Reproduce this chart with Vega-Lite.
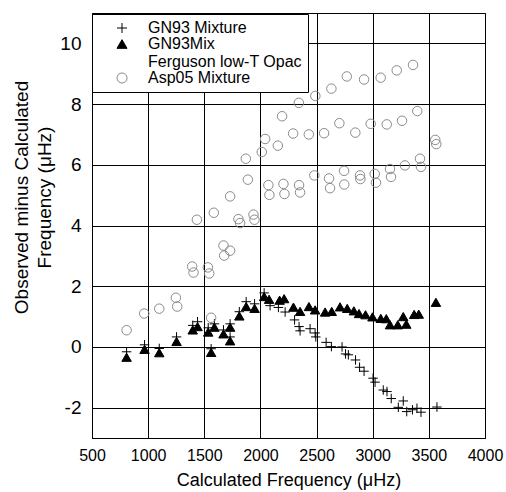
{
  "$schema": "https://vega.github.io/schema/vega-lite/v6.json",
  "autosize": {"type": "none"},
  "padding": {"left": 92, "top": 13, "right": 21, "bottom": 54},
  "width": 393,
  "height": 425,
  "background": "white",
  "config": {
    "font": "Liberation Sans",
    "view": {"stroke": "black", "strokeWidth": 1},
    "axis": {
      "grid": true,
      "gridColor": "black",
      "gridOpacity": 1,
      "gridWidth": 1,
      "domainColor": "black",
      "ticks": false,
      "labelColor": "black",
      "titleColor": "black",
      "titleFontWeight": "normal",
      "labelFont": "Liberation Sans",
      "titleFont": "Liberation Sans"
    }
  },
  "datasets": {
    "pts": [
      {"s": "GN93 Mixture", "x": 808, "y": -0.16},
      {"s": "GN93 Mixture", "x": 968, "y": 0.07},
      {"s": "GN93 Mixture", "x": 1099, "y": -0.05},
      {"s": "GN93 Mixture", "x": 1253, "y": 0.33},
      {"s": "GN93 Mixture", "x": 1397, "y": 0.71},
      {"s": "GN93 Mixture", "x": 1440, "y": 0.83},
      {"s": "GN93 Mixture", "x": 1535, "y": 0.63},
      {"s": "GN93 Mixture", "x": 1561, "y": -0.06},
      {"s": "GN93 Mixture", "x": 1590, "y": 0.76},
      {"s": "GN93 Mixture", "x": 1671, "y": 0.56},
      {"s": "GN93 Mixture", "x": 1730, "y": 0.76},
      {"s": "GN93 Mixture", "x": 1730, "y": 0.33},
      {"s": "GN93 Mixture", "x": 1812, "y": 1.16},
      {"s": "GN93 Mixture", "x": 1873, "y": 1.49},
      {"s": "GN93 Mixture", "x": 1948, "y": 1.42},
      {"s": "GN93 Mixture", "x": 2033, "y": 1.78},
      {"s": "GN93 Mixture", "x": 2086, "y": 1.36},
      {"s": "GN93 Mixture", "x": 2160, "y": 1.30},
      {"s": "GN93 Mixture", "x": 2220, "y": 1.15},
      {"s": "GN93 Mixture", "x": 2304, "y": 0.89},
      {"s": "GN93 Mixture", "x": 2344, "y": 0.67},
      {"s": "GN93 Mixture", "x": 2353, "y": 0.53},
      {"s": "GN93 Mixture", "x": 2442, "y": 0.60},
      {"s": "GN93 Mixture", "x": 2487, "y": 0.46},
      {"s": "GN93 Mixture", "x": 2493, "y": 0.33},
      {"s": "GN93 Mixture", "x": 2585, "y": 0.15},
      {"s": "GN93 Mixture", "x": 2632, "y": 0.01},
      {"s": "GN93 Mixture", "x": 2727, "y": 0.00},
      {"s": "GN93 Mixture", "x": 2758, "y": -0.23},
      {"s": "GN93 Mixture", "x": 2783, "y": -0.26},
      {"s": "GN93 Mixture", "x": 2847, "y": -0.43},
      {"s": "GN93 Mixture", "x": 2883, "y": -0.67},
      {"s": "GN93 Mixture", "x": 2923, "y": -0.80},
      {"s": "GN93 Mixture", "x": 3003, "y": -1.03},
      {"s": "GN93 Mixture", "x": 3021, "y": -1.16},
      {"s": "GN93 Mixture", "x": 3094, "y": -1.42},
      {"s": "GN93 Mixture", "x": 3127, "y": -1.47},
      {"s": "GN93 Mixture", "x": 3165, "y": -1.70},
      {"s": "GN93 Mixture", "x": 3228, "y": -1.99},
      {"s": "GN93 Mixture", "x": 3272, "y": -1.78},
      {"s": "GN93 Mixture", "x": 3303, "y": -2.13},
      {"s": "GN93 Mixture", "x": 3354, "y": -2.07},
      {"s": "GN93 Mixture", "x": 3394, "y": -2.02},
      {"s": "GN93 Mixture", "x": 3430, "y": -2.15},
      {"s": "GN93 Mixture", "x": 3572, "y": -1.98},
      {"s": "GN93Mix Ferguson low-T Opac", "x": 808, "y": -0.34},
      {"s": "GN93Mix Ferguson low-T Opac", "x": 968, "y": -0.08},
      {"s": "GN93Mix Ferguson low-T Opac", "x": 1099, "y": -0.19},
      {"s": "GN93Mix Ferguson low-T Opac", "x": 1253, "y": 0.18},
      {"s": "GN93Mix Ferguson low-T Opac", "x": 1397, "y": 0.56},
      {"s": "GN93Mix Ferguson low-T Opac", "x": 1440, "y": 0.67},
      {"s": "GN93Mix Ferguson low-T Opac", "x": 1535, "y": 0.49},
      {"s": "GN93Mix Ferguson low-T Opac", "x": 1561, "y": -0.18},
      {"s": "GN93Mix Ferguson low-T Opac", "x": 1590, "y": 0.65},
      {"s": "GN93Mix Ferguson low-T Opac", "x": 1671, "y": 0.43},
      {"s": "GN93Mix Ferguson low-T Opac", "x": 1730, "y": 0.65},
      {"s": "GN93Mix Ferguson low-T Opac", "x": 1730, "y": 0.20},
      {"s": "GN93Mix Ferguson low-T Opac", "x": 1812, "y": 1.02},
      {"s": "GN93Mix Ferguson low-T Opac", "x": 1873, "y": 1.33},
      {"s": "GN93Mix Ferguson low-T Opac", "x": 1948, "y": 1.27},
      {"s": "GN93Mix Ferguson low-T Opac", "x": 2033, "y": 1.66},
      {"s": "GN93Mix Ferguson low-T Opac", "x": 2077, "y": 1.57},
      {"s": "GN93Mix Ferguson low-T Opac", "x": 2171, "y": 1.54},
      {"s": "GN93Mix Ferguson low-T Opac", "x": 2211, "y": 1.59},
      {"s": "GN93Mix Ferguson low-T Opac", "x": 2294, "y": 1.31},
      {"s": "GN93Mix Ferguson low-T Opac", "x": 2353, "y": 1.17},
      {"s": "GN93Mix Ferguson low-T Opac", "x": 2432, "y": 1.33},
      {"s": "GN93Mix Ferguson low-T Opac", "x": 2487, "y": 1.22},
      {"s": "GN93Mix Ferguson low-T Opac", "x": 2576, "y": 1.15},
      {"s": "GN93Mix Ferguson low-T Opac", "x": 2635, "y": 1.17},
      {"s": "GN93Mix Ferguson low-T Opac", "x": 2709, "y": 1.32},
      {"s": "GN93Mix Ferguson low-T Opac", "x": 2773, "y": 1.27},
      {"s": "GN93Mix Ferguson low-T Opac", "x": 2832, "y": 1.19},
      {"s": "GN93Mix Ferguson low-T Opac", "x": 2878, "y": 1.10},
      {"s": "GN93Mix Ferguson low-T Opac", "x": 2936, "y": 1.06},
      {"s": "GN93Mix Ferguson low-T Opac", "x": 2998, "y": 0.99},
      {"s": "GN93Mix Ferguson low-T Opac", "x": 3072, "y": 0.94},
      {"s": "GN93Mix Ferguson low-T Opac", "x": 3121, "y": 0.93},
      {"s": "GN93Mix Ferguson low-T Opac", "x": 3154, "y": 0.73},
      {"s": "GN93Mix Ferguson low-T Opac", "x": 3223, "y": 0.73},
      {"s": "GN93Mix Ferguson low-T Opac", "x": 3272, "y": 1.00},
      {"s": "GN93Mix Ferguson low-T Opac", "x": 3299, "y": 0.75},
      {"s": "GN93Mix Ferguson low-T Opac", "x": 3369, "y": 1.07},
      {"s": "GN93Mix Ferguson low-T Opac", "x": 3410, "y": 1.08},
      {"s": "GN93Mix Ferguson low-T Opac", "x": 3563, "y": 1.47},
      {"s": "Asp05 Mixture", "x": 808, "y": 0.55},
      {"s": "Asp05 Mixture", "x": 965, "y": 1.10},
      {"s": "Asp05 Mixture", "x": 1099, "y": 1.26},
      {"s": "Asp05 Mixture", "x": 1247, "y": 1.62},
      {"s": "Asp05 Mixture", "x": 1259, "y": 1.33},
      {"s": "Asp05 Mixture", "x": 1392, "y": 2.65},
      {"s": "Asp05 Mixture", "x": 1404, "y": 2.45},
      {"s": "Asp05 Mixture", "x": 1532, "y": 2.62},
      {"s": "Asp05 Mixture", "x": 1544, "y": 2.42},
      {"s": "Asp05 Mixture", "x": 1561, "y": 0.96},
      {"s": "Asp05 Mixture", "x": 1671, "y": 3.34},
      {"s": "Asp05 Mixture", "x": 1730, "y": 3.17},
      {"s": "Asp05 Mixture", "x": 1677, "y": 3.01},
      {"s": "Asp05 Mixture", "x": 1434, "y": 4.19},
      {"s": "Asp05 Mixture", "x": 1585, "y": 4.42},
      {"s": "Asp05 Mixture", "x": 1730, "y": 4.96},
      {"s": "Asp05 Mixture", "x": 1804, "y": 4.21},
      {"s": "Asp05 Mixture", "x": 1819, "y": 4.08},
      {"s": "Asp05 Mixture", "x": 1938, "y": 4.36},
      {"s": "Asp05 Mixture", "x": 1947, "y": 4.19},
      {"s": "Asp05 Mixture", "x": 1888, "y": 5.51},
      {"s": "Asp05 Mixture", "x": 1870, "y": 6.20},
      {"s": "Asp05 Mixture", "x": 2012, "y": 6.42},
      {"s": "Asp05 Mixture", "x": 2042, "y": 6.85},
      {"s": "Asp05 Mixture", "x": 2155, "y": 6.63},
      {"s": "Asp05 Mixture", "x": 2193, "y": 7.60},
      {"s": "Asp05 Mixture", "x": 2071, "y": 5.33},
      {"s": "Asp05 Mixture", "x": 2080, "y": 5.01},
      {"s": "Asp05 Mixture", "x": 2205, "y": 5.37},
      {"s": "Asp05 Mixture", "x": 2214, "y": 5.04},
      {"s": "Asp05 Mixture", "x": 2344, "y": 5.33},
      {"s": "Asp05 Mixture", "x": 2353, "y": 5.09},
      {"s": "Asp05 Mixture", "x": 2291, "y": 7.03},
      {"s": "Asp05 Mixture", "x": 2342, "y": 8.04},
      {"s": "Asp05 Mixture", "x": 2431, "y": 7.00},
      {"s": "Asp05 Mixture", "x": 2489, "y": 8.27},
      {"s": "Asp05 Mixture", "x": 2480, "y": 5.65},
      {"s": "Asp05 Mixture", "x": 2567, "y": 7.04},
      {"s": "Asp05 Mixture", "x": 2632, "y": 8.51},
      {"s": "Asp05 Mixture", "x": 2611, "y": 5.55},
      {"s": "Asp05 Mixture", "x": 2620, "y": 5.23},
      {"s": "Asp05 Mixture", "x": 2703, "y": 7.37},
      {"s": "Asp05 Mixture", "x": 2769, "y": 8.91},
      {"s": "Asp05 Mixture", "x": 2745, "y": 5.80},
      {"s": "Asp05 Mixture", "x": 2747, "y": 5.35},
      {"s": "Asp05 Mixture", "x": 2845, "y": 7.06},
      {"s": "Asp05 Mixture", "x": 2923, "y": 8.81},
      {"s": "Asp05 Mixture", "x": 2887, "y": 5.65},
      {"s": "Asp05 Mixture", "x": 2890, "y": 5.53},
      {"s": "Asp05 Mixture", "x": 2982, "y": 7.35},
      {"s": "Asp05 Mixture", "x": 3071, "y": 8.87},
      {"s": "Asp05 Mixture", "x": 3018, "y": 5.70},
      {"s": "Asp05 Mixture", "x": 3029, "y": 5.41},
      {"s": "Asp05 Mixture", "x": 3125, "y": 7.33},
      {"s": "Asp05 Mixture", "x": 3214, "y": 9.11},
      {"s": "Asp05 Mixture", "x": 3154, "y": 5.86},
      {"s": "Asp05 Mixture", "x": 3163, "y": 5.60},
      {"s": "Asp05 Mixture", "x": 3261, "y": 7.45},
      {"s": "Asp05 Mixture", "x": 3359, "y": 9.29},
      {"s": "Asp05 Mixture", "x": 3287, "y": 5.98},
      {"s": "Asp05 Mixture", "x": 3397, "y": 7.77},
      {"s": "Asp05 Mixture", "x": 3421, "y": 6.20},
      {"s": "Asp05 Mixture", "x": 3430, "y": 5.93},
      {"s": "Asp05 Mixture", "x": 3557, "y": 6.82},
      {"s": "Asp05 Mixture", "x": 3566, "y": 6.68}
    ]
  },
  "data": {"name": "pts"},
  "mark": {"type": "point", "strokeWidth": 1, "opacity": 1, "size": 90},
  "encoding": {
    "x": {
      "field": "x",
      "type": "quantitative",
      "scale": {"domain": [500, 4000], "nice": false, "zero": false},
      "axis": {
        "values": [500, 1000, 1500, 2000, 2500, 3000, 3500, 4000],
        "format": "d",
        "labelFontSize": 16,
        "labelPadding": 9,
        "labelFlush": false,
        "title": "Calculated Frequency (μHz)",
        "titleFontSize": 18,
        "titleBaseline": "alphabetic",
        "titleY": 47
      }
    },
    "y": {
      "field": "y",
      "type": "quantitative",
      "scale": {"domain": [-3, 11], "nice": false, "zero": false},
      "axis": {
        "values": [-2, 0, 2, 4, 6, 8, 10],
        "labelExpr": "'' + datum.value",
        "labelFontSize": 19,
        "labelPadding": 11,
        "title": ["Observed minus Calculated", "Frequency (μHz)"],
        "titleFontSize": 19,
        "titleLineHeight": 23,
        "titleAngle": -90,
        "titleAlign": "center",
        "titleBaseline": "alphabetic",
        "titleX": -65,
        "titleY": 184
      }
    },
    "shape": {
      "field": "s",
      "type": "nominal",
      "scale": {
        "domain": ["GN93 Mixture", "GN93Mix Ferguson low-T Opac", "Asp05 Mixture"],
        "range": ["M-1,0H1M0,-1V1", "triangle-up", "circle"]
      },
      "legend": {
        "title": " ",
        "titleOrient": "left",
        "titleFontSize": 6,
        "titlePadding": 16,
        "orient": "none",
        "legendX": 0,
        "legendY": 1,
        "fillColor": "white",
        "strokeColor": "black",
        "padding": 6,
        "labelFontSize": 16,
        "labelFont": "Liberation Sans",
        "labelColor": "black",
        "labelLimit": 400,
        "labelOffset": 18,
        "labelLineHeight": 16,
        "rowPadding": 0,
        "symbolStrokeWidth": 1,
        "labelExpr": "datum.label == 'GN93Mix Ferguson low-T Opac' ? ['GN93Mix', 'Ferguson low-T Opac'] : datum.label"
      }
    },
    "fill": {
      "field": "s",
      "type": "nominal",
      "scale": {
        "domain": ["GN93 Mixture", "GN93Mix Ferguson low-T Opac", "Asp05 Mixture"],
        "range": ["transparent", "black", "transparent"]
      }
    },
    "stroke": {
      "field": "s",
      "type": "nominal",
      "scale": {
        "domain": ["GN93 Mixture", "GN93Mix Ferguson low-T Opac", "Asp05 Mixture"],
        "range": ["black", "black", "#8a8a8a"]
      }
    }
  }
}
